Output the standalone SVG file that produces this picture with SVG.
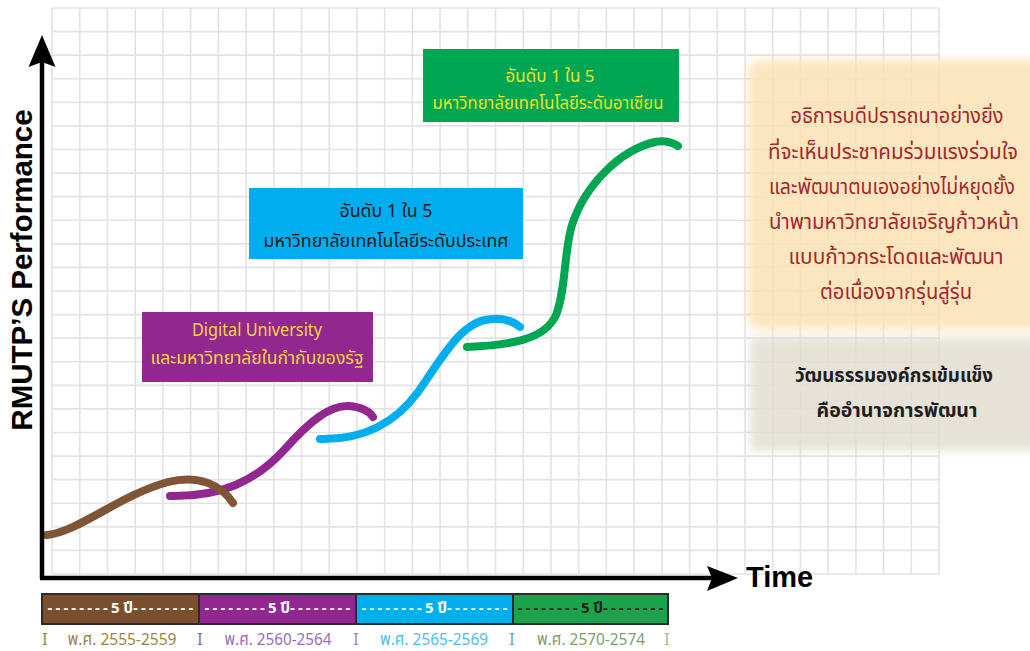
<svg xmlns="http://www.w3.org/2000/svg" width="1030" height="651" viewBox="0 0 1030 651">
<defs>
<style>
.th{font-family:"Noto Sans Thai","Noto Sans","Liberation Sans",sans-serif;text-anchor:middle}
.grid{stroke:#e3e3e3;stroke-width:1.6;fill:none}
.curve{fill:none;stroke-width:8;stroke-linecap:round}
.ax{stroke:#000;stroke-width:4.5;fill:none}
.seg{stroke:#2b2b2b;stroke-width:2}
.bt{font-size:15px;font-weight:bold}
.d{letter-spacing:3.1px}
.lab{font-size:17px}
.red{font-size:20.5px;fill:#a3282b}
.cul{font-size:20px;font-weight:bold;fill:#1e1e1e}
</style>
<filter id="soft" x="-10%" y="-10%" width="120%" height="120%"><feGaussianBlur stdDeviation="5"/></filter>
</defs>
<rect width="1030" height="651" fill="#fff"/>
<path class="grid" d="M52,8H939M52,31.58H939M52,55.17H939M52,78.75H939M52,102.33H939M52,125.92H939M52,149.5H939M52,173.08H939M52,196.67H939M52,220.25H939M52,243.83H939M52,267.42H939M52,291H939M52,314.58H939M52,338.17H939M52,361.75H939M52,385.33H939M52,408.92H939M52,432.5H939M52,456.08H939M52,479.67H939M52,503.25H939M52,526.83H939M52,550.42H939M52,574H939M52,8V574M79.72,8V574M107.44,8V574M135.16,8V574M162.88,8V574M190.6,8V574M218.32,8V574M246.04,8V574M273.76,8V574M301.48,8V574M329.2,8V574M356.92,8V574M384.64,8V574M412.36,8V574M440.08,8V574M467.8,8V574M495.52,8V574M523.24,8V574M550.96,8V574M578.68,8V574M606.4,8V574M634.12,8V574M661.84,8V574M689.56,8V574M717.28,8V574M745,8V574M772.72,8V574M800.44,8V574M828.16,8V574M855.88,8V574M883.6,8V574M911.32,8V574M939.04,8V574"/>

<g id="vision-panel">
<rect x="748" y="60" width="300" height="270" rx="12" fill="#fce2b4" opacity="0.85" filter="url(#soft)"/>
<text class="th red" x="897" y="123" textLength="213" lengthAdjust="spacingAndGlyphs">อธิการบดีปรารถนาอย่างยิ่ง</text>
<text class="th red" x="893" y="159" textLength="250" lengthAdjust="spacingAndGlyphs">ที่จะเห็นประชาคมร่วมแรงร่วมใจ</text>
<text class="th red" x="892" y="194" textLength="246" lengthAdjust="spacingAndGlyphs">และพัฒนาตนเองอย่างไม่หยุดยั้ง</text>
<text class="th red" x="894" y="229" textLength="250" lengthAdjust="spacingAndGlyphs">นำพามหาวิทยาลัยเจริญก้าวหน้า</text>
<text class="th red" x="896" y="264" textLength="215" lengthAdjust="spacingAndGlyphs">แบบก้าวกระโดดและพัฒนา</text>
<text class="th red" x="896" y="299" textLength="152" lengthAdjust="spacingAndGlyphs">ต่อเนื่องจากรุ่นสู่รุ่น</text>
</g>
<g id="culture-panel">
<rect x="750" y="337" width="300" height="114" fill="#e2ded2" opacity="0.85" filter="url(#soft)"/>
<text class="th cul" x="894" y="382" textLength="198" lengthAdjust="spacingAndGlyphs">วัฒนธรรมองค์กรเข้มแข็ง</text>
<text class="th cul" x="897" y="417" textLength="161" lengthAdjust="spacingAndGlyphs">คืออำนาจการพัฒนา</text>
</g>

<g id="curves">
<path class="curve" stroke="#92278f" d="M170,496 C220,497 255,482 285,449 C310,421 330,405 349,406 C361,407 369,411 373,417"/>
<path class="curve" stroke="#7f5535" d="M47,535 C78,532 120,495 168,482 C200,474 222,486 233,503"/>
<path class="curve" stroke="#00aeef" d="M320,439 C360,440 393,426 418,392 C444,355 462,320 492,319 C505,318 514,322 520,327"/>
<path class="curve" stroke="#00a651" d="M467,347 C510,345 545,340 556,315 C566,290 564,250 572,225 C585,185 620,150 655,142 C665,140 673,143 678,146"/>
</g>

<g id="box-asean">
<rect x="423" y="49" width="256" height="73" fill="#00a651"/>
<text class="th" font-size="17" fill="#ece42a" x="550" y="82" textLength="89" lengthAdjust="spacingAndGlyphs">อันดับ 1 ใน 5</text>
<text class="th" font-size="17" fill="#ece42a" x="548" y="109" textLength="231" lengthAdjust="spacingAndGlyphs">มหาวิทยาลัยเทคโนโลยีระดับอาเซียน</text>
</g>
<g id="box-national">
<rect x="249" y="188" width="274" height="71" fill="#00aeef"/>
<text class="th" font-size="18" fill="#1a1a1a" x="386" y="217" textLength="93" lengthAdjust="spacingAndGlyphs">อันดับ 1 ใน 5</text>
<text class="th" font-size="18" fill="#1a1a1a" x="386" y="247" textLength="245" lengthAdjust="spacingAndGlyphs">มหาวิทยาลัยเทคโนโลยีระดับประเทศ</text>
</g>
<g id="box-digital">
<rect x="142" y="312" width="231" height="70" fill="#92278f"/>
<text class="th" font-size="17.5" fill="#f5d83a" x="257" y="336" textLength="130" lengthAdjust="spacingAndGlyphs">Digital University</text>
<text class="th" font-size="17.5" fill="#f5d83a" x="257" y="364" textLength="213" lengthAdjust="spacingAndGlyphs">และมหาวิทยาลัยในกำกับของรัฐ</text>
</g>

<g id="axes">
<path class="ax" d="M42,579V60M40,578H712"/>
<path d="M42,35 L55.5,67 L42,62 L28.5,67Z" fill="#000"/>
<path d="M738,578 L707,566 L712,578 L707,591Z" fill="#000"/>
<text x="32" y="270" transform="rotate(-90 32 270)" font-family="Liberation Sans,Arial,sans-serif" font-weight="bold" font-size="29.5" text-anchor="middle">RMUTP’S Performance</text>
<text x="746" y="587" font-family="Liberation Sans,Arial,sans-serif" font-weight="bold" font-size="29">Time</text>
</g>

<g id="timeline">
<rect class="seg" x="42" y="594" width="157" height="30" fill="#7b4f2e"/>
<rect class="seg" x="199" y="594" width="157" height="30" fill="#92278f"/>
<rect class="seg" x="356" y="594" width="157" height="30" fill="#00aeef"/>
<rect class="seg" x="513" y="594" width="155" height="30" fill="#1aa34a"/>
<text class="th bt" fill="#fff" x="122" y="613"><tspan class="d">--------</tspan>5 ปี<tspan class="d">--------</tspan></text>
<text class="th bt" fill="#fff" x="279" y="613"><tspan class="d">--------</tspan>5 ปี<tspan class="d">--------</tspan></text>
<text class="th bt" fill="#fff" x="436" y="613"><tspan class="d">--------</tspan>5 ปี<tspan class="d">--------</tspan></text>
<text class="th bt" fill="#1e1e1e" x="592" y="613"><tspan class="d">--------</tspan>5 ปี<tspan class="d">--------</tspan></text>
<text class="th lab" x="45" y="645" fill="#a08850">I</text>
<text class="th lab" x="122" y="645" fill="#9c8448" textLength="109" lengthAdjust="spacingAndGlyphs">พ.ศ. 2555-2559</text>
<text class="th lab" x="200" y="645" fill="#8e6f9e">I</text>
<text class="th lab" x="278" y="645" fill="#9a6cc0" textLength="107" lengthAdjust="spacingAndGlyphs">พ.ศ. 2560-2564</text>
<text class="th lab" x="356" y="645" fill="#8f8fe0">I</text>
<text class="th lab" x="434" y="645" fill="#4dbdee" textLength="108" lengthAdjust="spacingAndGlyphs">พ.ศ. 2565-2569</text>
<text class="th lab" x="512" y="645" fill="#5aafb0">I</text>
<text class="th lab" x="591" y="645" fill="#7d9e6a" textLength="108" lengthAdjust="spacingAndGlyphs">พ.ศ. 2570-2574</text>
<text class="th lab" x="667" y="645" fill="#9cbf8c">I</text>
</g>
</svg>
